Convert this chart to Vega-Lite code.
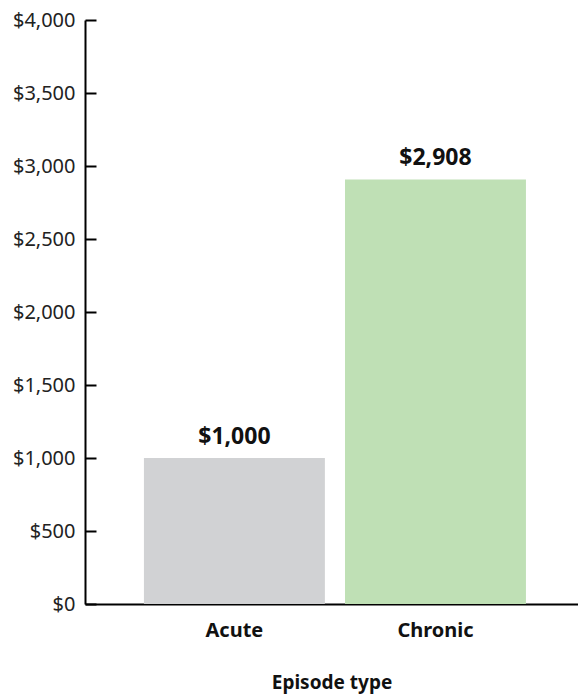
{
  "$schema": "https://vega.github.io/schema/vega-lite/v6.json",
  "width": 493,
  "height": 584,
  "autosize": "none",
  "padding": {"left": 85, "top": 20, "right": 0, "bottom": 90},
  "background": "white",
  "config": {"view": {"stroke": null}, "font": "Noto Sans"},
  "data": {"values": [
    {"episode": "Acute", "cost": 1000},
    {"episode": "Chronic", "cost": 2908}
  ]},
  "encoding": {
    "x": {
      "field": "episode", "type": "nominal", "sort": null,
      "scale": {"paddingInner": 0.1, "paddingOuter": 0.276, "align": 0.531},
      "axis": {
        "title": "Episode type", "labelAngle": 0, "ticks": false,
        "domainColor": "#000000", "domainWidth": 2,
        "labelFont": "Noto Sans", "labelFontSize": 20, "labelFontWeight": "bold", "labelColor": "#111111",
        "labelPadding": 16,
        "titleFont": "Noto Sans", "titleFontSize": 19, "titleFontWeight": "bold", "titleColor": "#111111",
        "titlePadding": 33,
        "grid": false
      }
    },
    "y": {
      "field": "cost", "type": "quantitative",
      "scale": {"domain": [0, 4000]},
      "axis": {
        "title": null, "values": [0, 500, 1000, 1500, 2000, 2500, 3000, 3500, 4000],
        "format": "$,.0f", "grid": false,
        "domainColor": "#000000", "domainWidth": 2,
        "tickColor": "#000000", "tickWidth": 2, "tickSize": -11,
        "labelFont": "Noto Sans", "labelFontSize": 20, "labelColor": "#222222",
        "labelPadding": 21
      }
    }
  },
  "layer": [
    {
      "mark": {"type": "bar"},
      "encoding": {
        "color": {
          "field": "episode", "type": "nominal",
          "scale": {"domain": ["Acute", "Chronic"], "range": ["#d1d2d4", "#bfe0b5"]},
          "legend": null
        }
      }
    },
    {
      "mark": {"type": "text", "dy": -21, "fontSize": 23, "fontWeight": "bold", "font": "Noto Sans", "color": "#111111"},
      "encoding": {
        "text": {"field": "cost", "type": "quantitative", "format": "$,.0f"}
      }
    }
  ]
}
